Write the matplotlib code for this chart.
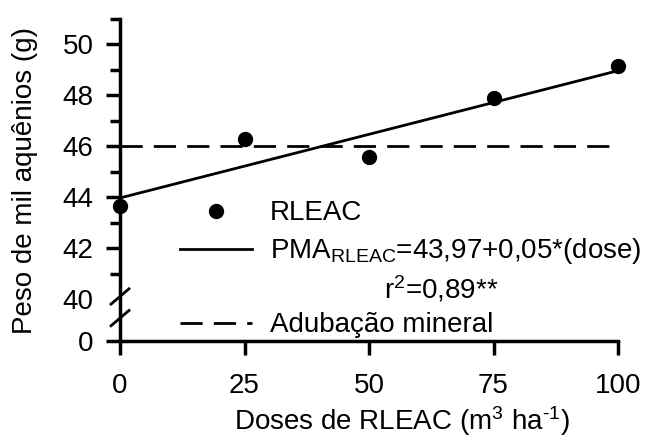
import matplotlib
matplotlib.use("Agg")
import matplotlib.pyplot as plt
import numpy as np

plt.rcParams.update({
    "font.family": "Liberation Sans",
    "mathtext.fontset": "custom",
    "mathtext.rm": "Liberation Sans",
    "mathtext.it": "Liberation Sans:italic",
    "mathtext.bf": "Liberation Sans:bold",
})

# Data
doses = [0, 25, 50, 75, 100]
peso = [43.65, 46.28, 45.57, 47.88, 49.17]
intercept, slope = 43.97, 0.05
mineral = 46.0
x_ticks = [0, 25, 50, 75, 100]
y_ticks = [40, 42, 44, 46, 48, 50]
y_minor = [41, 43, 45, 47, 49, 51]

# broken y axis: the "0" sits this far below 40
gap = 1.65
y_zero = y_ticks[0] - gap

fs = 20

fig = plt.figure(figsize=(6.47, 4.48), dpi=100)
ax = fig.add_axes([0.1855, 0.2388, 0.7697, 0.7188])

reg_x = np.array([0, 100])
reg_y = intercept + slope * reg_x

ax.plot(doses, peso, "o", color="black", ms=10, clip_on=False, zorder=4, label="RLEAC")
ax.plot(reg_x, reg_y, "-", color="black", lw=2, clip_on=False,
        label="PMA$_{\\mathrm{RLEAC}}$=43,97+0,05*(dose)")
ax.plot([], [], " ", label=" ")
ax.plot(reg_x, [mineral, mineral], color="black", lw=2, ls=(0, (8, 4)),
        label="Adubação mineral")

ax.set_xlim(0, 100)
ax.set_ylim(y_zero, 51)
ax.set_xticks(x_ticks)
ax.set_yticks([y_zero] + y_ticks, ["0"] + [str(v) for v in y_ticks])
ax.set_yticks(y_minor, minor=True)
ax.tick_params(axis="y", which="major", length=10, width=2.5, pad=9, labelsize=fs)
ax.tick_params(axis="y", which="minor", length=7, width=2.5)
ax.tick_params(axis="x", length=10, width=2.5, pad=13, labelsize=fs)
ax.yaxis.get_major_ticks()[1].tick1line.set_visible(False)

for s in ["top", "right"]:
    ax.spines[s].set_visible(False)
for s in ["left", "bottom"]:
    ax.spines[s].set_linewidth(2.5)

# break marks on the y axis
trans = ax.get_yaxis_transform()
for yc in [y_ticks[0] + 0.1, y_ticks[0] - 0.75]:
    ax.plot([-0.018, 0.018], [yc - 0.3, yc + 0.3], transform=trans,
            color="black", lw=2, clip_on=False)

ax.set_xlabel("Doses de RLEAC (m$^3$ ha$^{\\text{-1}}$)", fontsize=fs)
ax.xaxis.set_label_coords(0.566, -0.195)
ax.set_ylabel("Peso de mil aquênios (g)", fontsize=fs)
ax.yaxis.set_label_coords(-0.165, 0.5)

leg = ax.legend(loc="upper left", bbox_to_anchor=(0.12, 0.437), frameon=False,
                fontsize=fs, handlelength=2.6, handletextpad=0.65, labelspacing=0.36,
                borderpad=0, borderaxespad=0, numpoints=1)
texts = leg.get_texts()
ax.annotate("r$^2$=0,89**", xy=(0.46, 0.5), xycoords=(texts[1], texts[2]),
            ha="center", va="center", fontsize=fs, zorder=10)

fig.savefig("out.png", dpi=100)
